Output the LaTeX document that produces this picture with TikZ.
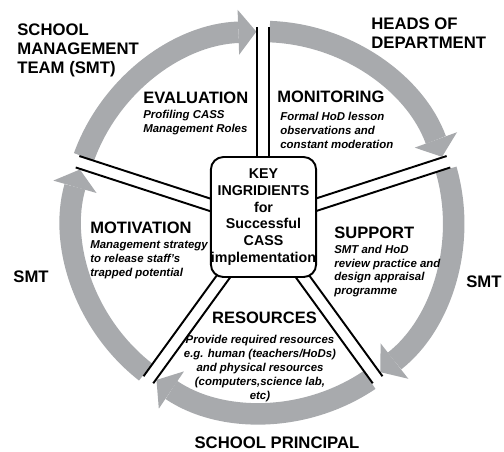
\documentclass[tikz,border=0pt]{standalone}
\usepackage{fontspec}
\setmainfont{Liberation Sans}
\usetikzlibrary{arrows.meta,positioning}
\definecolor{ringgray}{RGB}{168,170,173}

\begin{document}
\begin{tikzpicture}[
    spoke/.style={line width=1.1pt},
    ringarrow/.style={draw=ringgray, line width=0.43cm,
                      -{Triangle[width=0.9cm, length=0.36cm, line width=0pt]}},
    keybox/.style={draw, fill=white, line width=1.1pt, rounded corners=0.25cm,
                   minimum width=2.06cm, minimum height=2.4cm, inner sep=0pt,
                   align=center, font=\fontsize{8.1}{9.5}\selectfont\bfseries},
    actor/.style={font=\fontsize{9.5}{10.6}\selectfont\bfseries, align=left, inner sep=0pt},
    stagetitle/.style={font=\fontsize{9.4}{11}\selectfont\bfseries, inner sep=0pt},
    stagenote/.style={font=\fontsize{6.5}{7.9}\selectfont\bfseries\itshape, align=left, inner sep=0pt},
]

\def\ringradius{3.81}
\def\spokelength{3.9}
\def\gapangle{2}

\useasboundingbox (-5.26,-4.58) rectangle (4.82,4.44);

% Ring: one arrow between each pair of spokes, running clockwise
\foreach \a in {162,90,18,-54,-126}
    \draw[ringarrow] ({\a-\gapangle}:\ringradius)
        arc[start angle={\a-\gapangle}, end angle={\a-72+\gapangle}, radius=\ringradius];

% Spokes (double lines) out from the centre
\foreach \a in {90,18,-54,-126,162} {
    \draw[spoke, rotate=\a] (0,0.12) -- (\spokelength,0.12);
    \draw[spoke, rotate=\a] (0,-0.12) -- (\spokelength,-0.12);
}

% Centre box
\node[keybox] (key) at (0.01,0.1)
    {KEY\\INGRIDIENTS\\for\\Successful\\CASS\\implementation};

% Who is responsible, round the outside
\node[actor, anchor=west] (smt) at (-4.92,3.43) {SCHOOL\\MANAGEMENT\\TEAM (SMT)};
\node[actor, anchor=west] (hod) at (2.16,3.78) {HEADS OF\\DEPARTMENT};
\node[actor, anchor=west] (smtright) at (4.06,-1.2) {SMT};
\node[actor] (smtleft) at (-4.64,-1.1) {SMT};
\node[actor] (principal) at (0.28,-4.42) {SCHOOL PRINCIPAL};

% Stages inside the ring
\node[stagetitle, anchor=west] (evaluation) at (-2.4,2.48) {EVALUATION};
\node[stagenote, anchor=west] (evalnote) at (-2.4,1.99)
    {Profiling CASS\\Management Roles};

\node[stagetitle, anchor=west] (monitoring) at (0.28,2.5) {MONITORING};
\node[stagenote, anchor=west] (monnote) at (0.34,1.83)
    {Formal HoD lesson\\observations and\\constant moderation};

\node[stagetitle, anchor=west] (support) at (1.42,-0.22) {SUPPORT};
\node[stagenote, anchor=west] (supnote) at (1.42,-0.98)
    {SMT and HoD\\review practice and\\design appraisal\\programme};

\node[stagetitle, anchor=west] (motivation) at (-3.46,-0.12) {MOTIVATION};
\node[stagenote, anchor=west] (motnote) at (-3.46,-0.76)
    {Management strategy\\to release staff's\\trapped potential};

\node[stagetitle] (resources) at (0.03,-1.92) {RESOURCES};
\node[stagenote, align=center] (resnote) at (-0.06,-2.93)
    {Provide required resources\\e.g. human (teachers/HoDs)\\and physical resources\\(computers,science lab,\\etc)};

\end{tikzpicture}
\end{document}
